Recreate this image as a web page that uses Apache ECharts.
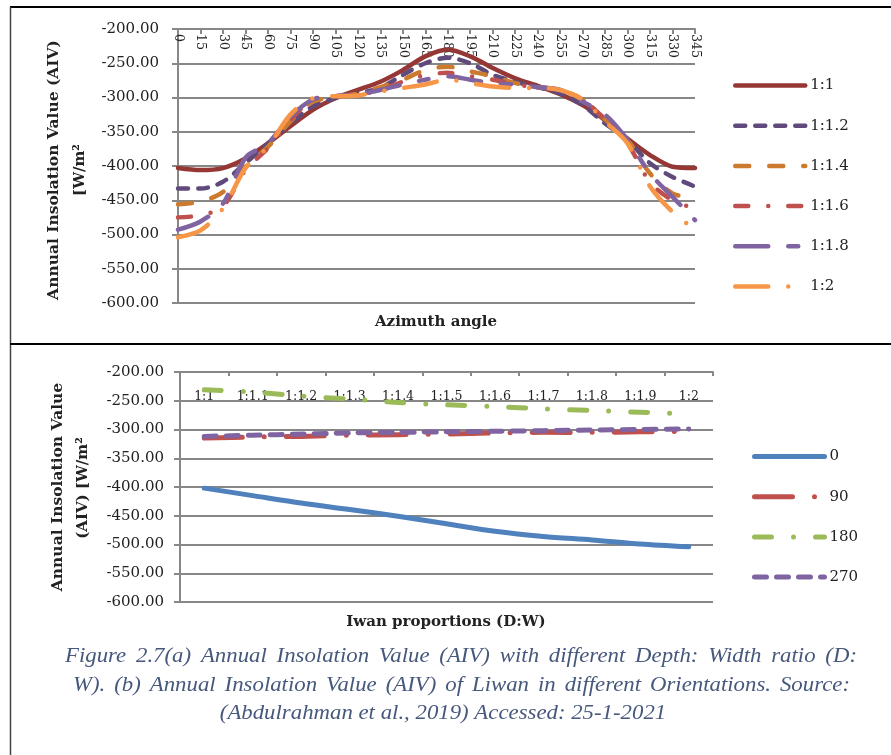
<!DOCTYPE html>
<html><head><meta charset="utf-8">
<script src="https://cdn.jsdelivr.net/npm/echarts@6/dist/echarts.min.js"></script>
<style>html,body{margin:0;padding:0;background:#fff}#c{width:891px;height:755px}</style>
</head><body><div id="c"></div>
<script>
// ---------- data ----------
const azimuth = ['0','15','30','45','60','75','90','105','120','135','150','165','180','195','210','225','240','255','270','285','300','315','330','345'];
const ratioNames = ['1:1','1:1.2','1:1.4','1:1.6','1:1.8','1:2'];
const r11  = [-403,-406,-403,-389,-367,-342,-318,-301,-289,-277,-260,-240,-230,-240,-257,-272,-283,-295,-311,-333,-360,-384,-401,-403];
const r112 = [-433,-433,-423,-396,-367,-338,-313,-301,-294,-286,-267,-250,-242,-250,-267,-277,-285,-294,-311,-338,-362,-396,-416,-430];
const r114 = [-456,-452,-438,-401,-372,-335,-306,-300,-294,-285,-274,-260,-255,-262,-269,-279,-285,-289,-303,-332,-362,-411,-440,-447];
const r116 = [-475,-472,-459,-406,-374,-333,-303,-298,-296,-289,-277,-267,-264,-269,-274,-281,-285,-289,-303,-332,-367,-424,-450,-462];
const r118 = [-493,-481,-455,-388,-367,-328,-303,-298,-295,-289,-281,-274,-269,-274,-279,-281,-285,-289,-306,-325,-362,-411,-445,-479];
const r12  = [-504,-494,-462,-403,-372,-325,-301,-298,-297,-291,-286,-281,-274,-279,-284,-286,-286,-289,-303,-335,-367,-430,-467,-493];

const proportions = ['1:1','1:1.1','1:1.2','1:1.3','1:1.4','1:1.5','1:1.6','1:1.7','1:1.8','1:1.9','1:2'];
const orientNames = ['0','90','180','270'];
const o0   = [-402,-415,-428,-439,-451,-464,-477,-486,-492,-499,-504];
const o90  = [-315,-313,-312,-310,-309,-308,-306,-305,-305,-304,-303];
const o180 = [-231,-235,-242,-247,-253,-257,-260,-264,-267,-270,-273];
const o270 = [-312,-310,-308,-306,-305,-304,-303,-302,-301,-300,-299];

const yTicks = { min: -600, max: -200, interval: 50 };

const captionLines = [
  'Figure 2.7(a) Annual Insolation Value (AIV) with different Depth: Width ratio (D:',
  'W). (b) Annual Insolation Value (AIV) of Liwan in different Orientations. Source:',
  '(Abdulrahman et al., 2019) Accessed: 25-1-2021'
];

// ---------- styles ----------
const SERIF = 'DejaVu Serif';
const GRID = '#878787';
const topStyles = [
  { color: '#953735', type: 'solid' },
  { color: '#604A7B', type: [10, 10] },
  { color: '#CC7A2E', type: [14, 20] },
  { color: '#C0504D', type: [13, 20, 0, 20] },
  { color: '#8064A2', type: [33, 20, 10, 20] },
  { color: '#F79646', type: [33, 20, 0, 20] }
];
const botStyles = [
  { color: '#4F81BD', type: 'solid' },
  { color: '#C0504D', type: [38, 22, 0, 22] },
  { color: '#9BBB59', type: [17, 22, 0, 22] },
  { color: '#8064A2', type: [12, 10] }
];
const topData = [r11, r112, r114, r116, r118, r12];
const botData = [o0, o90, o180, o270];
const TOPW = 4.5, BOTW = 5;

function yAxis(gridIndex, margin) {
  return {
    type: 'value', gridIndex, min: yTicks.min, max: yTicks.max, interval: yTicks.interval,
    axisLine: { show: true, lineStyle: { color: GRID, width: 2 } },
    axisTick: { show: true, length: 6, lineStyle: { color: GRID, width: 2 } },
    splitLine: { show: true, lineStyle: { color: GRID, width: 2 } },
    axisLabel: { fontFamily: SERIF, fontSize: 15, color: '#222', margin, formatter: v => v.toFixed(2) }
  };
}

const series = [];
topData.forEach((d, i) => series.push({
  name: ratioNames[i], type: 'line', xAxisIndex: 0, yAxisIndex: 0, data: d,
  smooth: 0.3, symbol: 'none',
  lineStyle: { color: topStyles[i].color, width: TOPW, type: topStyles[i].type, cap: 'round', join: 'round' },
  itemStyle: { color: topStyles[i].color }
}));
botData.forEach((d, i) => series.push({
  name: orientNames[i], type: 'line', xAxisIndex: 1, yAxisIndex: 1, data: d,
  smooth: 0.3, symbol: 'none',
  lineStyle: { color: botStyles[i].color, width: BOTW, type: botStyles[i].type, cap: 'round', join: 'round' },
  itemStyle: { color: botStyles[i].color }
}));

function legend(names, left, top, w) {
  return {
    data: names, orient: 'vertical', left, top, padding: 0, itemWidth: 70, itemHeight: 14, itemGap: 25.2,
    itemStyle: { color: 'rgba(0,0,0,0)', borderWidth: 0, opacity: 0 },
    lineStyle: { width: w },
    textStyle: { fontFamily: SERIF, fontSize: 15, color: '#222' }
  };
}

// ---------- caption (justified like the source document) ----------
const capFont = 'italic 20px "Liberation Serif"';
const capColor = '#46587C';
const capScale = 1.14;
const measure = document.createElement('canvas').getContext('2d');
measure.font = capFont;
function captionLine(text, y, left, right, justify) {
  const words = text.split(' ');
  const widths = words.map(w => measure.measureText(w).width * capScale);
  const sum = widths.reduce((a, b) => a + b, 0);
  let gap, x;
  if (justify) {
    gap = (right - left - sum) / (words.length - 1);
    x = left;
  } else {
    gap = measure.measureText(' ').width * capScale;
    const total = sum + gap * (words.length - 1);
    x = (left + right) / 2 - total / 2;
  }
  return words.map((w, i) => {
    const el = { type: 'text', x, y, scaleX: capScale, style: { text: w, font: capFont, fill: capColor, align: 'left', verticalAlign: 'middle' } };
    x += widths[i] + gap;
    return el;
  });
}
const captionEls = [].concat(
  captionLine(captionLines[0], 657, 65, 857, true),
  captionLine(captionLines[1], 686, 73, 850, true),
  captionLine(captionLines[2], 714, 230, 656, false)
);

const chart = echarts.init(document.getElementById('c'), null, { renderer: 'canvas' });
chart.setOption({
  animation: false,
  backgroundColor: '#fff',
  grid: [
    { left: 178, top: 29, width: 517, height: 274 },
    { left: 180, top: 372, width: 533, height: 230 }
  ],
  xAxis: [
    {
      type: 'category', gridIndex: 0, data: azimuth, position: 'top', boundaryGap: false,
      axisLine: { show: true, lineStyle: { color: GRID, width: 2 } },
      axisTick: { show: true, inside: true, length: 5, interval: 0, lineStyle: { color: GRID, width: 2 } },
      axisLabel: { inside: true, rotate: 90, interval: 0, fontFamily: SERIF, fontSize: 12.5, color: '#222', margin: 5 },
      splitLine: { show: false }
    },
    {
      type: 'category', gridIndex: 1, data: proportions, position: 'top', boundaryGap: true,
      axisLine: { show: true, lineStyle: { color: GRID, width: 2 } },
      axisTick: { show: true, inside: true, length: 4, interval: 0, lineStyle: { color: GRID, width: 2 } },
      axisLabel: { inside: true, interval: 0, fontFamily: SERIF, fontSize: 12.5, color: '#222', margin: 18 },
      splitLine: { show: false }
    }
  ],
  yAxis: [yAxis(0, 19), yAxis(1, 16)],
  legend: [legend(ratioNames, 733, 78, TOPW), legend(orientNames, 752, 449, BOTW)],
  series,
  graphic: [
    // frame
    { type: 'line', shape: { x1: 10, y1: 7, x2: 891, y2: 7 }, style: { stroke: '#000', lineWidth: 2 } },
    { type: 'line', shape: { x1: 10.5, y1: 7, x2: 10.5, y2: 755 }, style: { stroke: '#444', lineWidth: 1.5 } },
    { type: 'line', shape: { x1: 10, y1: 344, x2: 891, y2: 344 }, style: { stroke: '#000', lineWidth: 2 } },
    // axis titles top
    { type: 'text', x: 54, y: 170, rotation: Math.PI / 2, style: { text: 'Annual Insolation Value (AIV)', font: 'bold 15.5px "DejaVu Serif"', fill: '#222', align: 'center', verticalAlign: 'middle' } },
    { type: 'text', x: 80, y: 170, rotation: Math.PI / 2, style: { text: '[W/m²', font: 'bold 15px "DejaVu Serif"', fill: '#222', align: 'center', verticalAlign: 'middle' } },
    { type: 'text', x: 436, y: 322, style: { text: 'Azimuth angle', font: 'bold 15px "DejaVu Serif"', fill: '#222', align: 'center', verticalAlign: 'middle' } },
    // axis titles bottom
    { type: 'text', x: 58, y: 487, rotation: Math.PI / 2, style: { text: 'Annual Insolation Value', font: 'bold 15.5px "DejaVu Serif"', fill: '#222', align: 'center', verticalAlign: 'middle' } },
    { type: 'text', x: 83, y: 488, rotation: Math.PI / 2, style: { text: '(AIV) [W/m²', font: 'bold 15px "DejaVu Serif"', fill: '#222', align: 'center', verticalAlign: 'middle' } },
    { type: 'text', x: 446, y: 622, style: { text: 'Iwan proportions (D:W)', font: 'bold 15px "DejaVu Serif"', fill: '#222', align: 'center', verticalAlign: 'middle' } }
  ].concat(captionEls)
});
</script></body></html>
